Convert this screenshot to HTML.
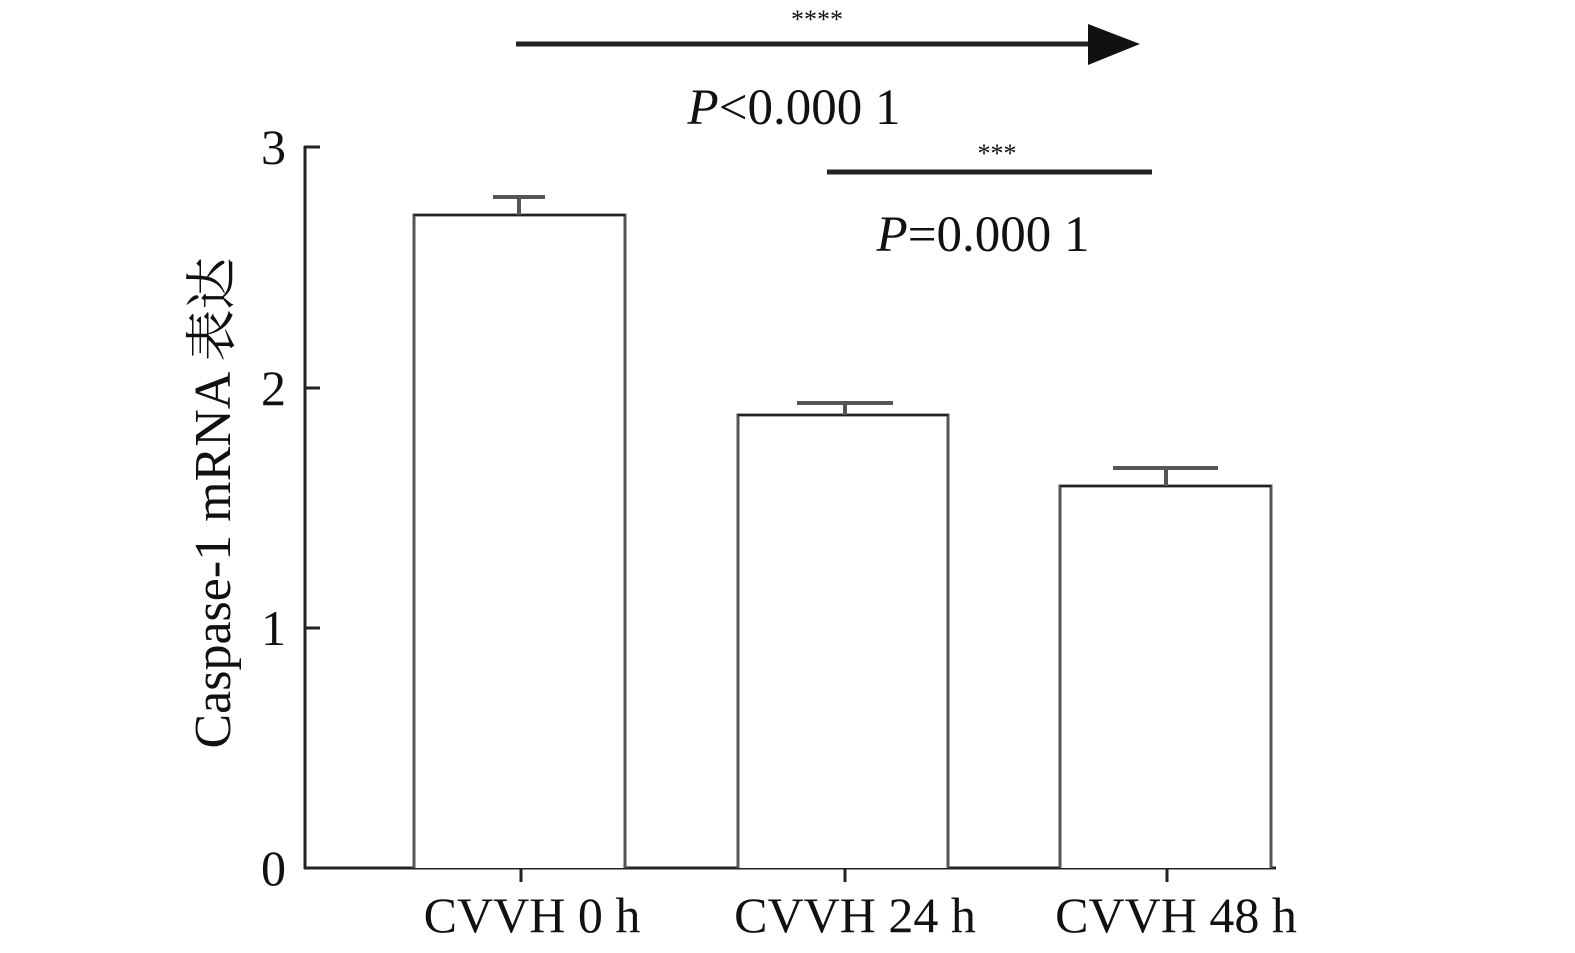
<!DOCTYPE html>
<html><head><meta charset="utf-8"><style>html,body{margin:0;padding:0;background:#fff;overflow:hidden;width:1575px;height:953px}svg{display:block}</style></head>
<body>
<svg width="1575" height="953" viewBox="0 0 1575 953" xmlns="http://www.w3.org/2000/svg" font-family="'Liberation Serif','Noto Serif CJK SC',serif">
<rect width="1575" height="953" fill="#fff"/>
<line x1="305" y1="146" x2="305" y2="869" stroke="#222" stroke-width="3"/>
<line x1="304" y1="868" x2="1276" y2="868" stroke="#222" stroke-width="3"/>
<g stroke="#222" stroke-width="3">
<line x1="304" y1="147" x2="320" y2="147"/>
<line x1="304" y1="388" x2="320" y2="388"/>
<line x1="304" y1="628" x2="320" y2="628"/>
<line x1="521" y1="868" x2="521" y2="882"/>
<line x1="845" y1="868" x2="845" y2="882"/>
<line x1="1167" y1="868" x2="1167" y2="882"/>
</g>
<g font-size="50" fill="#111" text-anchor="end">
<text x="286" y="164">3</text>
<text x="286" y="405">2</text>
<text x="286" y="645">1</text>
<text x="286" y="885">0</text>
</g>
<g font-size="50" fill="#111" text-anchor="middle">
<text x="532" y="932">CVVH 0 h</text>
<text x="855" y="932">CVVH 24 h</text>
<text x="1176" y="932">CVVH 48 h</text>
</g>
<text transform="translate(230,503) rotate(-90)" font-size="52" fill="#111" text-anchor="middle">Caspase-1 mRNA 表达</text>
<g fill="#fff" stroke="#555" stroke-width="3">
<path d="M414 868 V215 H625 V868"/>
<path d="M738 868 V415 H948 V868"/>
<path d="M1060 868 V486 H1271 V868"/>
</g>
<g stroke="#222" stroke-width="2"><line x1="414" y1="215" x2="625" y2="215"/><line x1="738" y1="415" x2="948" y2="415"/><line x1="1060" y1="486" x2="1271" y2="486"/></g>
<g stroke="#555" stroke-width="4">
<line x1="519" y1="197" x2="519" y2="215"/><line x1="493" y1="197" x2="545" y2="197"/>
<line x1="845" y1="403" x2="845" y2="415"/><line x1="797" y1="403" x2="893" y2="403"/>
<line x1="1166" y1="468" x2="1166" y2="486"/><line x1="1113" y1="468" x2="1218" y2="468"/>
</g>
<line x1="516" y1="44" x2="1095" y2="44" stroke="#222" stroke-width="5"/>
<polygon points="1088,24 1140,44 1088,65" fill="#111"/>
<text x="817" y="28" font-size="26" fill="#111" text-anchor="middle">****</text>
<text x="794" y="124" font-size="51" fill="#111" text-anchor="middle"><tspan font-style="italic">P</tspan>&lt;0.000 1</text>
<line x1="827" y1="172" x2="1152" y2="172" stroke="#222" stroke-width="5"/>
<text x="997" y="162" font-size="26" fill="#111" text-anchor="middle">***</text>
<text x="983" y="251" font-size="51" fill="#111" text-anchor="middle"><tspan font-style="italic">P</tspan>=0.000 1</text>
</svg>
</body></html>
